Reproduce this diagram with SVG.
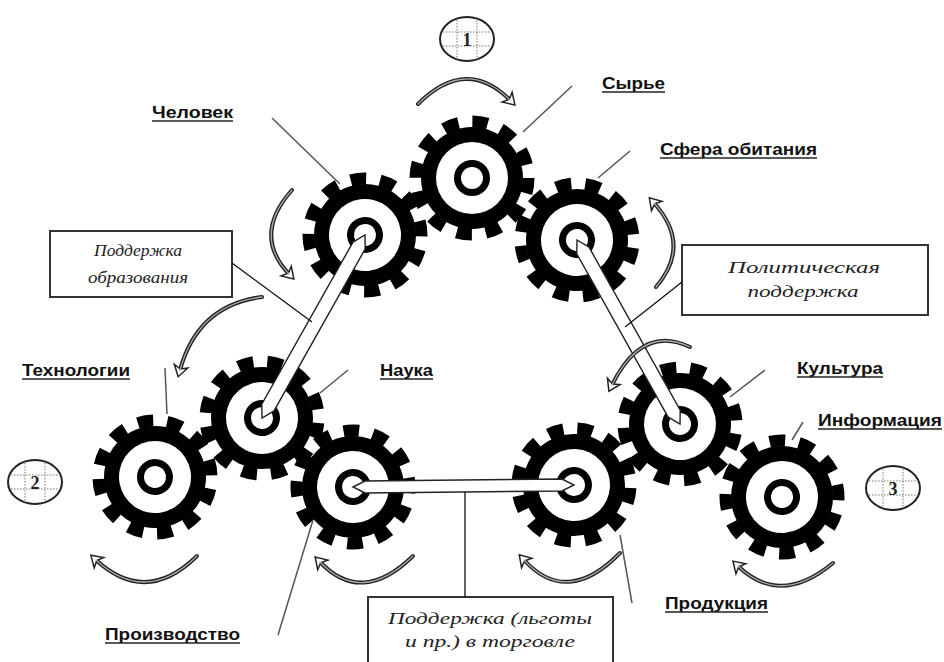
<svg xmlns="http://www.w3.org/2000/svg" xmlns:xlink="http://www.w3.org/1999/xlink" width="944" height="662" viewBox="0 0 944 662">
<style>
.lbl{font-family:"Liberation Sans",Arial,sans-serif;font-weight:bold;font-size:16px;fill:#111}
.ul{stroke:#222;stroke-width:1.6}
.bt{font-family:"Liberation Serif","Times New Roman",serif;font-style:italic;font-size:17px;fill:#222;text-anchor:middle}
.box{fill:#fff;stroke:#333;stroke-width:2}
.num{font-family:"Liberation Serif",serif;font-weight:bold;font-size:18px;fill:#222;text-anchor:middle}
.ptr{stroke:#555;stroke-width:1.5;fill:none}
.lead{stroke:#111;stroke-width:1.3;fill:none}
.bar{fill:#fff;stroke:#222;stroke-width:1.4}
.arc{fill:none;stroke:#222;stroke-width:4;stroke-linecap:round}
.arcin{fill:none;stroke:#aaa;stroke-width:1.3;stroke-linecap:round}
.grid{stroke:#777;stroke-width:1;stroke-dasharray:1.5 1.5}
</style>
<defs>
<g id="gear">
<circle r="51" fill="#000"/>
<circle r="56.5" fill="none" stroke="#000" stroke-width="12" stroke-dasharray="15.5 14.08"/>
<circle r="36" fill="#fff"/>
<circle r="18" fill="#000"/>
<circle r="11" fill="#fff"/>
</g>
<g id="badge">
<ellipse rx="27" ry="22" fill="#fff" stroke="#222" stroke-width="2"/>
<line class="grid" x1="-10" y1="-19" x2="-10" y2="19"/>
<line class="grid" x1="10" y1="-19" x2="10" y2="19"/>
<line class="grid" x1="-24" y1="-7" x2="24" y2="-7"/>
<line class="grid" x1="-24" y1="7" x2="24" y2="7"/>
</g>
<marker id="ah" viewBox="-10 -10 20 20" markerWidth="20" markerHeight="20" refX="0" refY="0" orient="auto" markerUnits="userSpaceOnUse">
<path d="M-4,-7 L7,0 L-4,7 L-1,0 Z" fill="#fff" stroke="#222" stroke-width="1.5"/>
</marker>
</defs>
<rect width="944" height="662" fill="#fff"/>

<g id="gear-syrye">
<use xlink:href="#gear" href="#gear" transform="translate(472,178) rotate(0)"/>
<text class="lbl" x="602" y="89" textLength="63" lengthAdjust="spacingAndGlyphs">Сырье</text>
<line class="ul" x1="602" y1="92" x2="665" y2="92"/>
</g>
<g id="gear-chelovek">
<use xlink:href="#gear" href="#gear" transform="translate(365,235) rotate(15)"/>
<text class="lbl" x="152" y="118" textLength="81" lengthAdjust="spacingAndGlyphs">Человек</text>
<line class="ul" x1="152" y1="121" x2="233" y2="121"/>
</g>
<g id="gear-sfera">
<use xlink:href="#gear" href="#gear" transform="translate(577,240) rotate(8)"/>
<text class="lbl" x="660" y="155" textLength="157" lengthAdjust="spacingAndGlyphs">Сфера обитания</text>
<line class="ul" x1="660" y1="158" x2="817" y2="158"/>
</g>
<g id="gear-nauka">
<use xlink:href="#gear" href="#gear" transform="translate(262,418) rotate(5)"/>
<text class="lbl" x="380" y="376" textLength="53" lengthAdjust="spacingAndGlyphs">Наука</text>
<line class="ul" x1="380" y1="379" x2="433" y2="379"/>
</g>
<g id="gear-tekhnologii">
<use xlink:href="#gear" href="#gear" transform="translate(155,477) rotate(12)"/>
<text class="lbl" x="22" y="376" textLength="108" lengthAdjust="spacingAndGlyphs">Технологии</text>
<line class="ul" x1="22" y1="379" x2="130" y2="379"/>
</g>
<g id="gear-proizvodstvo">
<use xlink:href="#gear" href="#gear" transform="translate(353,487) rotate(20)"/>
<text class="lbl" x="105" y="640" textLength="135" lengthAdjust="spacingAndGlyphs">Производство</text>
<line class="ul" x1="105" y1="643" x2="240" y2="643"/>
</g>
<g id="gear-produktsiya">
<use xlink:href="#gear" href="#gear" transform="translate(574,485) rotate(3)"/>
<text class="lbl" x="665" y="609" textLength="103" lengthAdjust="spacingAndGlyphs">Продукция</text>
<line class="ul" x1="665" y1="612" x2="768" y2="612"/>
</g>
<g id="gear-kultura">
<use xlink:href="#gear" href="#gear" transform="translate(680,424) rotate(10)"/>
<text class="lbl" x="797" y="374" textLength="86" lengthAdjust="spacingAndGlyphs">Культура</text>
<line class="ul" x1="797" y1="377" x2="883" y2="377"/>
</g>
<g id="gear-informatsiya">
<use xlink:href="#gear" href="#gear" transform="translate(782,497) rotate(17)"/>
<text class="lbl" x="818" y="426" textLength="124" lengthAdjust="spacingAndGlyphs">Информация</text>
<line class="ul" x1="818" y1="429" x2="942" y2="429"/>
</g>

<g id="badge-1">
<use xlink:href="#badge" href="#badge" transform="translate(467,39)"/>
<text class="num" x="467" y="46">1</text>
</g>
<g id="badge-2">
<use xlink:href="#badge" href="#badge" transform="translate(35,482)"/>
<text class="num" x="35" y="489">2</text>
</g>
<g id="badge-3">
<use xlink:href="#badge" href="#badge" transform="translate(893,488)"/>
<text class="num" x="893" y="495">3</text>
</g>

<g id="box-obrazovanie">
<rect class="box" x="50" y="231" width="182" height="66"/>
<text class="bt" x="138" y="256" textLength="88" lengthAdjust="spacingAndGlyphs">Поддержка</text>
<text class="bt" x="138" y="283" textLength="100" lengthAdjust="spacingAndGlyphs">образования</text>
</g>
<g id="box-politika">
<rect class="box" x="682" y="245" width="246" height="70"/>
<text class="bt" x="804" y="273" textLength="152" lengthAdjust="spacingAndGlyphs">Политическая</text>
<text class="bt" x="803" y="297" textLength="111" lengthAdjust="spacingAndGlyphs">поддержка</text>
</g>
<g id="box-torgovlya">
<rect class="box" x="368" y="597" width="245" height="80"/>
<text class="bt" x="490" y="624" textLength="204" lengthAdjust="spacingAndGlyphs">Поддержка (льготы</text>
<text class="bt" x="490" y="647" textLength="170" lengthAdjust="spacingAndGlyphs">и пр.) в торговле</text>
</g>

<g id="connectors">
<polygon class="bar" points="365,235 365.2,248.9 274,410.9 262,418 261.8,404.1 353,242.1"/>
<polygon class="bar" points="577,240 589,247.1 680.2,410.1 680,424 668,416.9 576.8,253.9"/>
<polygon class="bar" points="353,487 365,481 562,479 574,485 562,491 365,493"/>
<line class="lead" x1="232" y1="263" x2="312" y2="322"/>
<line class="lead" x1="682" y1="282" x2="625" y2="327"/>
<line class="lead" x1="465" y1="492" x2="465" y2="597"/>
<line class="ptr" x1="272" y1="118" x2="340" y2="184"/>
<line class="ptr" x1="572" y1="86" x2="523" y2="132"/>
<line class="ptr" x1="630" y1="151" x2="598" y2="178"/>
<line class="ptr" x1="765" y1="370" x2="730" y2="397"/>
<line class="ptr" x1="803" y1="422" x2="792" y2="440"/>
<line class="ptr" x1="348" y1="370" x2="320" y2="393"/>
<line class="ptr" x1="165" y1="368" x2="167" y2="414"/>
<line class="ptr" x1="278" y1="635" x2="313" y2="520"/>
<line class="ptr" x1="632" y1="603" x2="620" y2="535"/>
<path class="arc" d="M418,104 Q466,56 510,100" marker-end="url(#ah)"/>
<path class="arcin" d="M418,104 Q466,56 510,100"/>
<path class="arc" d="M292,190 Q252,235 289,274" marker-end="url(#ah)"/>
<path class="arcin" d="M292,190 Q252,235 289,274"/>
<path class="arc" d="M656,287 Q692,245 654,203" marker-end="url(#ah)"/>
<path class="arcin" d="M656,287 Q692,245 654,203"/>
<path class="arc" d="M262,297 Q198,305 180,370" marker-end="url(#ah)"/>
<path class="arcin" d="M262,297 Q198,305 180,370"/>
<path class="arc" d="M690,347 Q642,324 612,385" marker-end="url(#ah)"/>
<path class="arcin" d="M690,347 Q642,324 612,385"/>
<path class="arc" d="M197,556 Q146,606 96,560" marker-end="url(#ah)"/>
<path class="arcin" d="M197,556 Q146,606 96,560"/>
<path class="arc" d="M413,556 Q362,606 320,562" marker-end="url(#ah)"/>
<path class="arcin" d="M413,556 Q362,606 320,562"/>
<path class="arc" d="M620,553 Q567,607 524,560" marker-end="url(#ah)"/>
<path class="arcin" d="M620,553 Q567,607 524,560"/>
<path class="arc" d="M833,563 Q780,607 738,566" marker-end="url(#ah)"/>
<path class="arcin" d="M833,563 Q780,607 738,566"/>
</g>
</svg>
